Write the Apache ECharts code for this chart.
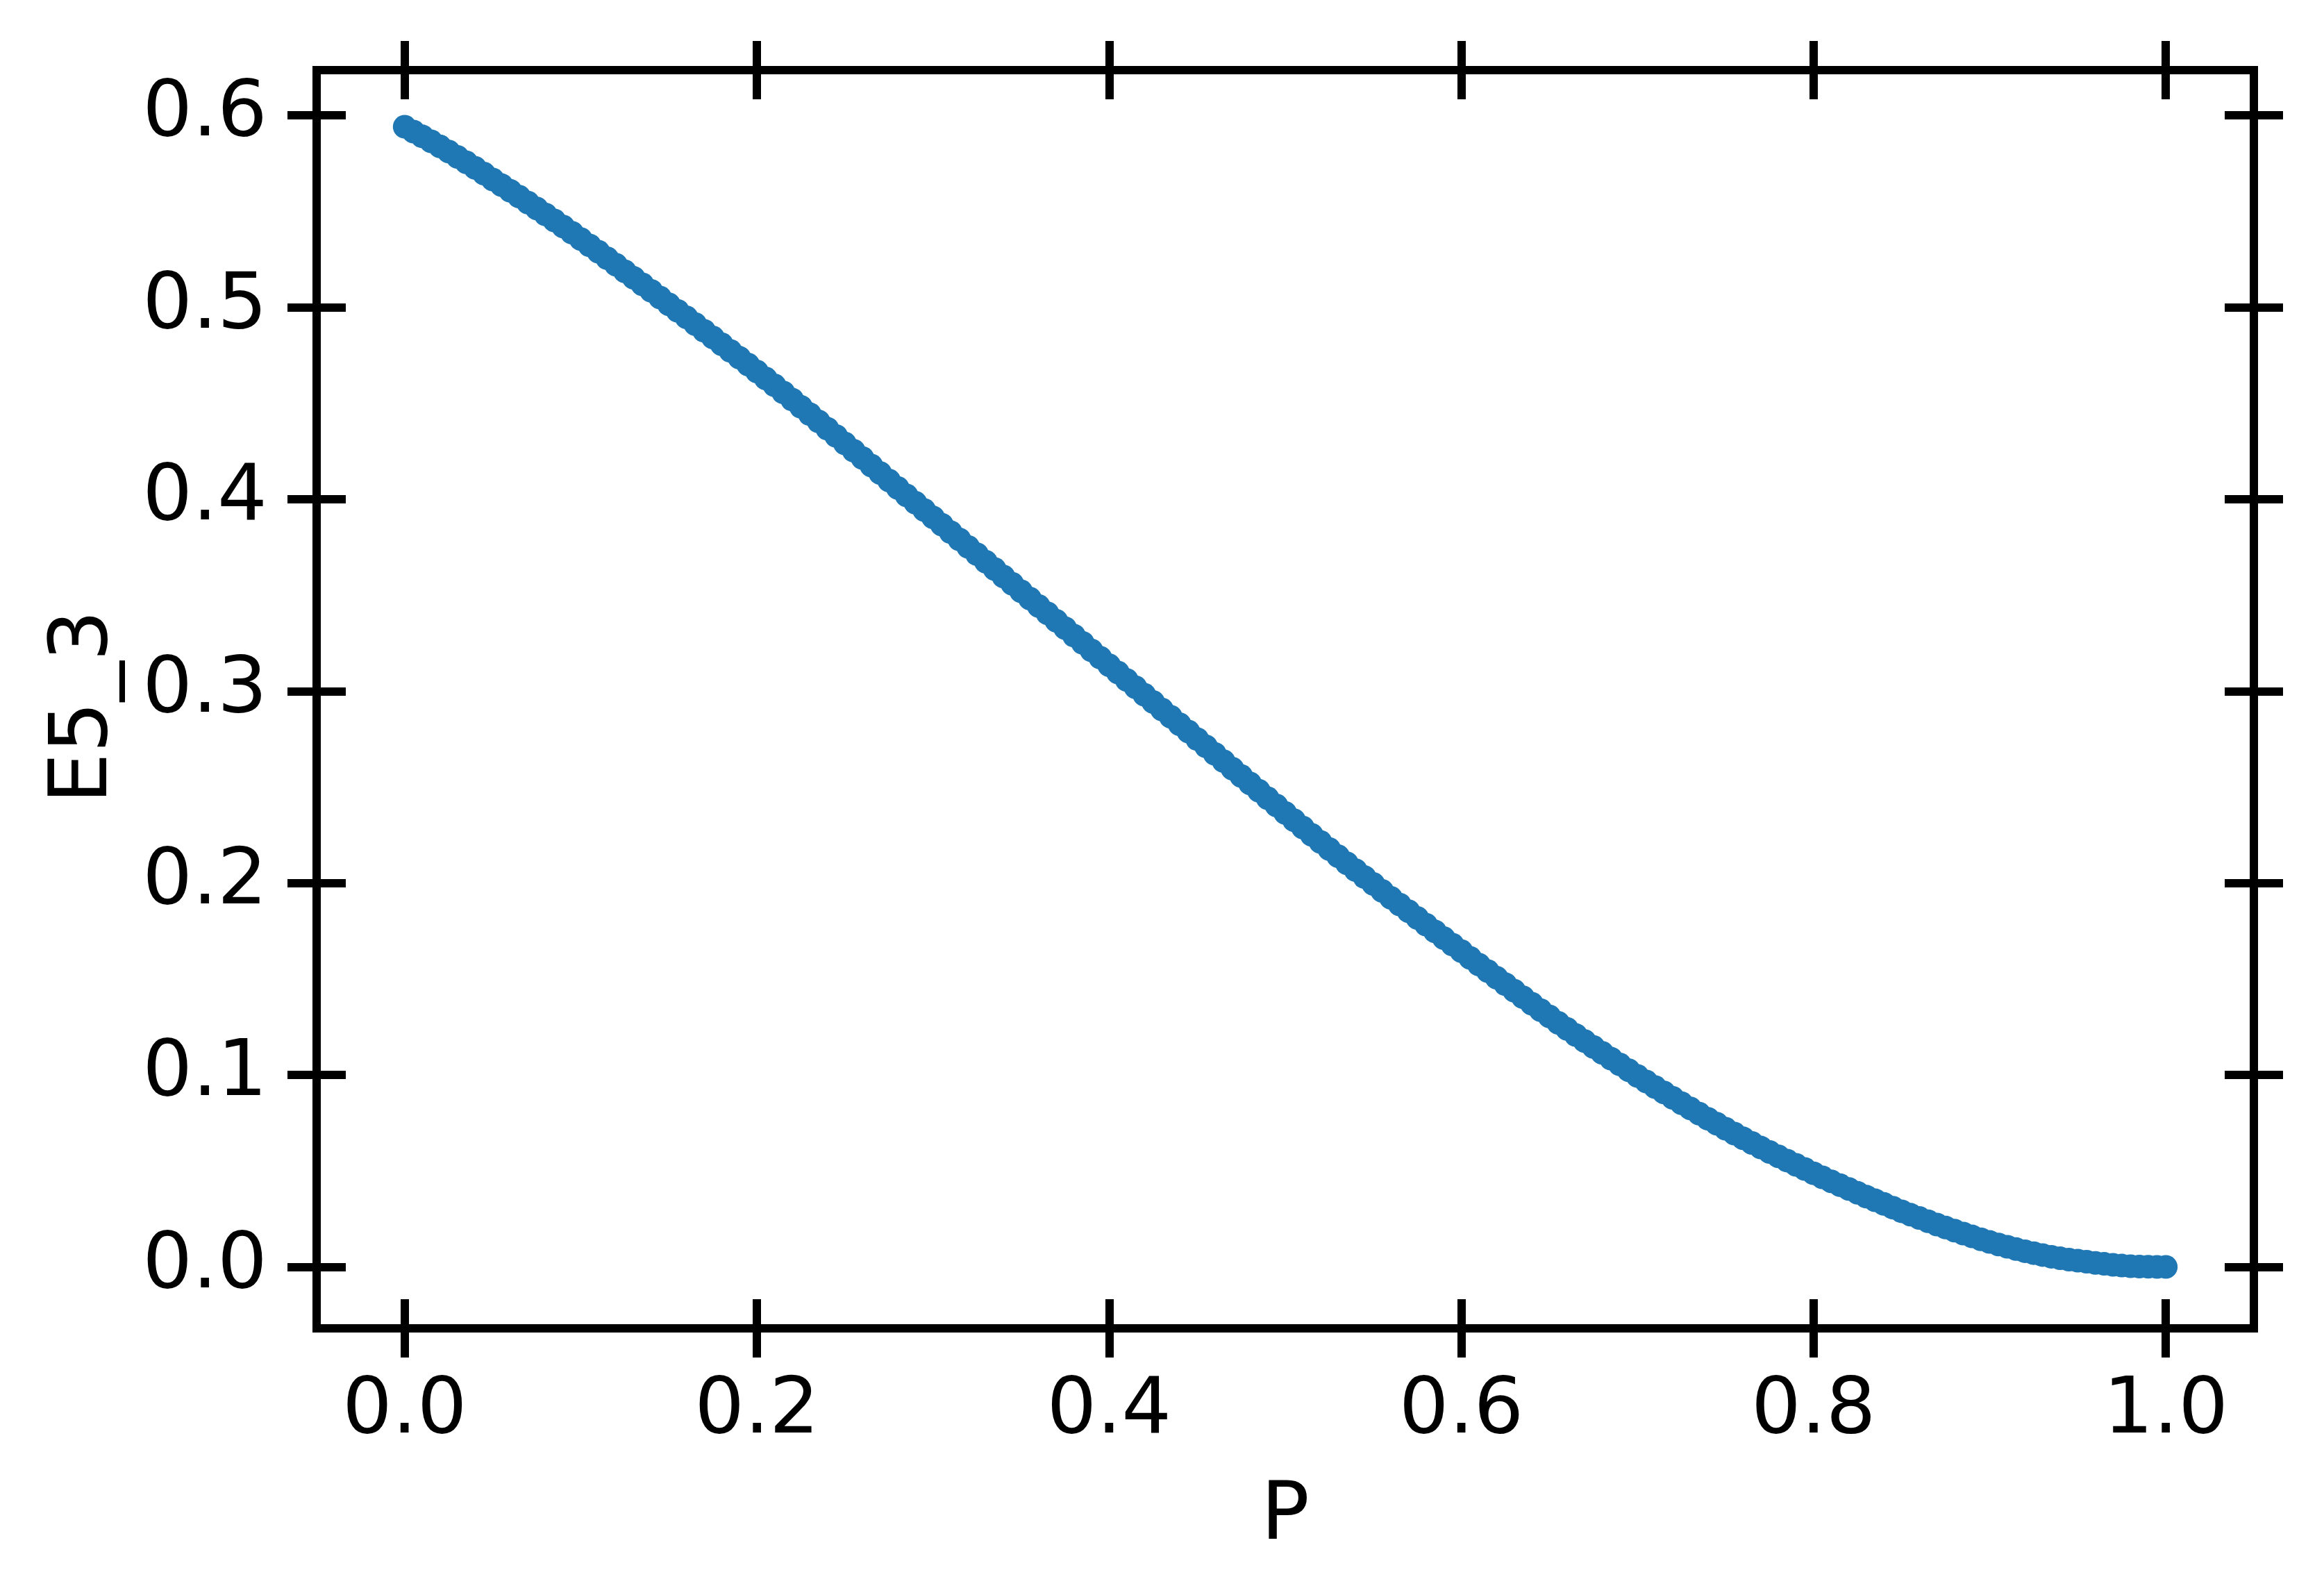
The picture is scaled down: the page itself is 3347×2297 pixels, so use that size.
<!DOCTYPE html>
<html>
<head>
<meta charset="utf-8">
<script src="https://cdn.jsdelivr.net/npm/echarts@6/dist/echarts.min.js"></script>
<style>
  html, body { margin: 0; padding: 0; background: #fff; }
  #chart { width: 3347px; height: 2297px; }
</style>
</head>
<body>
<div id="chart"></div>
<script>
// P 取值 (x)
const pValues = [
  0, 0.005, 0.01, 0.015, 0.02, 0.025, 0.03, 0.035, 0.04, 0.045,
  0.05, 0.055, 0.06, 0.065, 0.07, 0.075, 0.08, 0.085, 0.09, 0.095,
  0.1, 0.105, 0.11, 0.115, 0.12, 0.125, 0.13, 0.135, 0.14, 0.145,
  0.15, 0.155, 0.16, 0.165, 0.17, 0.175, 0.18, 0.185, 0.19, 0.195,
  0.2, 0.205, 0.21, 0.215, 0.22, 0.225, 0.23, 0.235, 0.24, 0.245,
  0.25, 0.255, 0.26, 0.265, 0.27, 0.275, 0.28, 0.285, 0.29, 0.295,
  0.3, 0.305, 0.31, 0.315, 0.32, 0.325, 0.33, 0.335, 0.34, 0.345,
  0.35, 0.355, 0.36, 0.365, 0.37, 0.375, 0.38, 0.385, 0.39, 0.395,
  0.4, 0.405, 0.41, 0.415, 0.42, 0.425, 0.43, 0.435, 0.44, 0.445,
  0.45, 0.455, 0.46, 0.465, 0.47, 0.475, 0.48, 0.485, 0.49, 0.495,
  0.5, 0.505, 0.51, 0.515, 0.52, 0.525, 0.53, 0.535, 0.54, 0.545,
  0.55, 0.555, 0.56, 0.565, 0.57, 0.575, 0.58, 0.585, 0.59, 0.595,
  0.6, 0.605, 0.61, 0.615, 0.62, 0.625, 0.63, 0.635, 0.64, 0.645,
  0.65, 0.655, 0.66, 0.665, 0.67, 0.675, 0.68, 0.685, 0.69, 0.695,
  0.7, 0.705, 0.71, 0.715, 0.72, 0.725, 0.73, 0.735, 0.74, 0.745,
  0.75, 0.755, 0.76, 0.765, 0.77, 0.775, 0.78, 0.785, 0.79, 0.795,
  0.8, 0.805, 0.81, 0.815, 0.82, 0.825, 0.83, 0.835, 0.84, 0.845,
  0.85, 0.855, 0.86, 0.865, 0.87, 0.875, 0.88, 0.885, 0.89, 0.895,
  0.9, 0.905, 0.91, 0.915, 0.92, 0.925, 0.93, 0.935, 0.94, 0.945,
  0.95, 0.955, 0.96, 0.965, 0.97, 0.975, 0.98, 0.985, 0.99, 0.995,
  1.0
];

// E5_3 取值 (y)
const e53Values = [
  0.5940, 0.5915, 0.5890, 0.5864, 0.5838, 0.5811, 0.5783, 0.5755, 0.5726, 0.5696,
  0.5665, 0.5636, 0.5606, 0.5576, 0.5545, 0.5514, 0.5483, 0.5452, 0.5420, 0.5388,
  0.5355, 0.5322, 0.5289, 0.5255, 0.5221, 0.5187, 0.5153, 0.5119, 0.5085, 0.5050,
  0.5015, 0.4981, 0.4947, 0.4912, 0.4877, 0.4842, 0.4807, 0.4772, 0.4737, 0.4701,
  0.4665, 0.4629, 0.4593, 0.4556, 0.4519, 0.4481, 0.4443, 0.4405, 0.4367, 0.4329,
  0.4290, 0.4252, 0.4214, 0.4175, 0.4136, 0.4097, 0.4058, 0.4019, 0.3981, 0.3943,
  0.3905, 0.3867, 0.3828, 0.3790, 0.3751, 0.3713, 0.3674, 0.3636, 0.3597, 0.3559,
  0.3520, 0.3482, 0.3443, 0.3405, 0.3366, 0.3328, 0.3289, 0.3251, 0.3212, 0.3174,
  0.3135, 0.3097, 0.3058, 0.3020, 0.2981, 0.2943, 0.2904, 0.2866, 0.2827, 0.2789,
  0.2750, 0.2712, 0.2673, 0.2635, 0.2596, 0.2558, 0.2519, 0.2481, 0.2442, 0.2404,
  0.2365, 0.2327, 0.2289, 0.2251, 0.2214, 0.2177, 0.2140, 0.2103, 0.2067, 0.2031,
  0.1995, 0.1959, 0.1923, 0.1888, 0.1853, 0.1818, 0.1783, 0.1748, 0.1713, 0.1679,
  0.1645, 0.1610, 0.1575, 0.1541, 0.1507, 0.1473, 0.1439, 0.1405, 0.1371, 0.1338,
  0.1305, 0.1272, 0.1240, 0.1208, 0.1177, 0.1146, 0.1115, 0.1085, 0.1055, 0.1025,
  0.0995, 0.0966, 0.0937, 0.0909, 0.0881, 0.0853, 0.0826, 0.0799, 0.0772, 0.0746,
  0.0720, 0.0695, 0.0670, 0.0646, 0.0622, 0.0599, 0.0576, 0.0554, 0.0532, 0.0510,
  0.0488, 0.0467, 0.0446, 0.0426, 0.0406, 0.0386, 0.0366, 0.0347, 0.0328, 0.0309,
  0.0290, 0.0272, 0.0255, 0.0238, 0.0221, 0.0205, 0.0189, 0.0174, 0.0159, 0.0144,
  0.0130, 0.0117, 0.0105, 0.0093, 0.0082, 0.0072, 0.0062, 0.0053, 0.0045, 0.0038,
  0.0033, 0.0027, 0.0021, 0.0016, 0.0011, 0.0007, 0.0004, 0.0002, 0.0001, 0.0000,
  0.0000
];

// 刻度
const xTicks = [0, 0.2, 0.4, 0.6, 0.8, 1.0];
const yTicks = [0, 0.1, 0.2, 0.3, 0.4, 0.5, 0.6];

const FONT = 'DejaVu Sans';
const TICK_LEN = 84;   // inout 刻度, 一半在框内一半在框外
const LINE_W = 12;

const chart = echarts.init(document.getElementById('chart'));

const points = pValues.map((p, i) => [p, e53Values[i]]);

// 一个轴的公共配置
function makeAxis(pos, ticks, min, max, withLabel, extra) {
  return Object.assign({
    type: 'value',
    position: pos,
    min: min,
    max: max,
    offset: -TICK_LEN / 2,
    axisLine: { show: false, onZero: false },
    splitLine: { show: false },
    axisTick: {
      show: true,
      inside: false,
      length: TICK_LEN,
      customValues: ticks,
      lineStyle: { color: '#000', width: LINE_W, cap: 'butt' }
    },
    axisLabel: {
      show: withLabel,
      customValues: ticks,
      formatter: v => v.toFixed(1),
      color: '#000',
      fontFamily: FONT,
      fontSize: 113
    }
  }, extra || {});
}

const option = {
  animation: false,
  backgroundColor: '#fff',
  grid: {
    left: 456,
    right: 101,
    top: 101,
    bottom: 384,
    show: true,
    borderColor: '#000',
    borderWidth: LINE_W,
    backgroundColor: 'transparent'
  },
  xAxis: [
    makeAxis('bottom', xTicks, -0.05, 1.05, true, {
      name: 'P',
      nameLocation: 'middle',
      nameGap: 257,
      nameTextStyle: { color: '#000', fontFamily: FONT, fontSize: 116 }
    }),
    makeAxis('top', xTicks, -0.05, 1.05, false)
  ],
  yAxis: [
    makeAxis('left', yTicks, -0.032, 0.6235, true, {
      name: 'E5_3',
      nameLocation: 'middle',
      nameRotate: 90,
      nameGap: 317,
      nameTextStyle: {
        color: '#000', fontFamily: FONT, fontSize: 116,
        padding: [0, 22, 0, 0]
      }
    }),
    makeAxis('right', yTicks, -0.032, 0.6235, false)
  ],
  series: [{
    type: 'scatter',
    data: points,
    symbol: 'circle',
    symbolSize: 34,
    itemStyle: { color: '#1f77b4', opacity: 1 }
  }]
};
option.xAxis[0].axisLabel.margin = 106;
option.yAxis[0].axisLabel.margin = 113;

chart.setOption(option);
</script>
</body>
</html>
